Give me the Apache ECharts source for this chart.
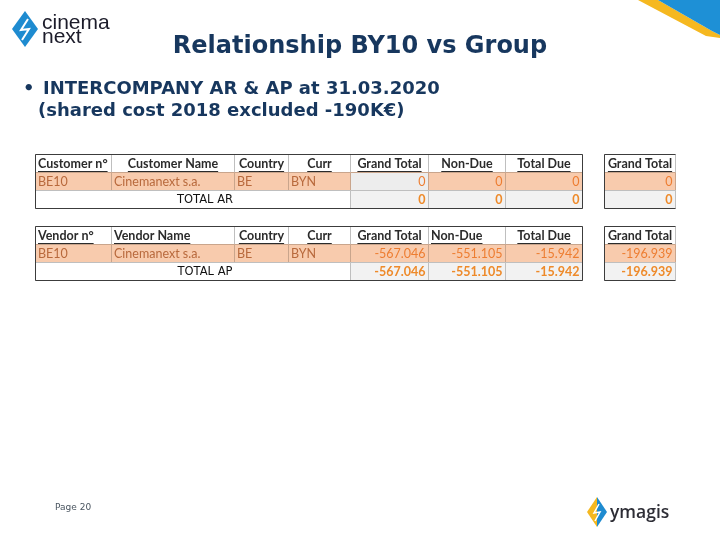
<!DOCTYPE html>
<html>
<head>
<meta charset="utf-8">
<script src="https://cdn.jsdelivr.net/npm/echarts@6/dist/echarts.min.js"></script>
<style>html,body{margin:0;padding:0;background:#fff}#c{width:720px;height:540px}</style>
</head>
<body>
<div id="c"></div>
<script>
// ---------- data ----------
const arHeaders = ['Customer n°', 'Customer Name', 'Country', 'Curr', 'Grand Total', 'Non-Due', 'Total Due'];
const apHeaders = ['Vendor n°', 'Vendor Name', 'Country', 'Curr', 'Grand Total', 'Non-Due', 'Total Due'];
const groupHeader = 'Grand Total';
const arRowLabels = ['BE10', 'Cinemanext s.a.', 'BE', 'BYN'];
const apRowLabels = ['BE10', 'Cinemanext s.a.', 'BE', 'BYN'];
const arAmounts = [0, 0, 0];
const arTotals = [0, 0, 0];
const arGroupAmount = 0;
const arGroupTotal = 0;
const apAmounts = [-567046, -551105, -15942];
const apTotals = [-567046, -551105, -15942];
const apGroupAmount = -196939;
const apGroupTotal = -196939;
const totalLabels = ['TOTAL AR', 'TOTAL AP'];

// ---------- layout ----------
const COL_EDGES = [35, 111, 234, 288, 350, 428, 505, 582];
const GROUP_EDGES = [604, 675];
const TABLE_TOPS = [154, 226];
const ROW_H = 18;
const HEAD_ALIGN = [
  ['left', 'center', 'center', 'center', 'center', 'center', 'center'],
  ['left', 'left', 'center', 'center', 'center', 'left', 'center']
];
const ORANGE = '#F8CBAD', GREY = '#EDEDED', LGREY = '#F2F2F2';
const FONT = 'Lato, "Open Sans", sans-serif';

function fmt(v) {
  if (v === 0) return '0';
  const s = Math.abs(v).toString().replace(/\B(?=(\d{3})+(?!\d))/g, '.');
  return (v < 0 ? '-' : '') + s;
}

const tables = [
  { headers: arHeaders, labels: arRowLabels, amounts: arAmounts, totals: arTotals,
    gAmount: arGroupAmount, gTotal: arGroupTotal, total: totalLabels[0], gtFill: GREY },
  { headers: apHeaders, labels: apRowLabels, amounts: apAmounts, totals: apTotals,
    gAmount: apGroupAmount, gTotal: apGroupTotal, total: totalLabels[1], gtFill: ORANGE }
];

const cells = [];
tables.forEach((t, ti) => {
  t.headers.forEach((h, c) => cells.push({ ti, r: 0, c0: c, c1: c + 1, g: false, kind: 'head', text: h, align: HEAD_ALIGN[ti][c], fill: '#fff' }));
  cells.push({ ti, r: 0, c0: 0, c1: 1, g: true, kind: 'head', text: groupHeader, align: 'center', fill: '#fff' });
  t.labels.forEach((l, c) => cells.push({ ti, r: 1, c0: c, c1: c + 1, g: false, kind: 'label', text: l, align: 'left', fill: ORANGE }));
  t.amounts.forEach((v, i) => cells.push({ ti, r: 1, c0: 4 + i, c1: 5 + i, g: false, kind: 'num', text: fmt(v), align: 'right', fill: i === 0 ? t.gtFill : ORANGE }));
  cells.push({ ti, r: 1, c0: 0, c1: 1, g: true, kind: 'num', text: fmt(t.gAmount), align: 'right', fill: ORANGE });
  cells.push({ ti, r: 2, c0: 0, c1: 4, g: false, kind: 'total', text: t.total, align: 'center', fill: '#fff' });
  t.totals.forEach((v, i) => cells.push({ ti, r: 2, c0: 4 + i, c1: 5 + i, g: false, kind: 'numBold', text: fmt(v), align: 'right', fill: LGREY }));
  cells.push({ ti, r: 2, c0: 0, c1: 1, g: true, kind: 'numBold', text: fmt(t.gTotal), align: 'right', fill: LGREY });
  cells.push({ ti, r: 0, r1: 3, c0: 0, c1: 7, g: false, kind: 'frame' });
  cells.push({ ti, r: 0, r1: 3, c0: 0, c1: 1, g: true, kind: 'frameG' });
});

const measureCtx = document.createElement('canvas').getContext('2d');
function textW(font, s) { measureCtx.font = font; return measureCtx.measureText(s).width; }

function renderItem(params, api) {
  const cell = cells[params.dataIndex];
  const edges = cell.g ? GROUP_EDGES : COL_EDGES;
  const top = TABLE_TOPS[cell.ti];
  const rEnd = cell.r1 !== undefined ? cell.r1 : cell.r + 1;
  const p0 = api.coord([edges[cell.c0], top + cell.r * ROW_H]);
  const p1 = api.coord([edges[cell.c1], top + rEnd * ROW_H]);
  const x0 = Math.round(p0[0]) + 0.5, y0 = Math.round(p0[1]) + 0.5;
  const x1 = Math.round(p1[0]) + 0.5, y1 = Math.round(p1[1]) + 0.5;
  if (cell.kind === 'frame') {
    return { type: 'rect', shape: { x: x0, y: y0, width: x1 - x0, height: y1 - y0 },
      style: { fill: null, stroke: '#3c3c3c', lineWidth: 1 } };
  }
  if (cell.kind === 'frameG') {
    return { type: 'polyline', shape: { points: [[x1, y0], [x0, y0], [x0, y1], [x1, y1]] },
      style: { fill: null, stroke: '#3c3c3c', lineWidth: 1 } };
  }
  const children = [{
    type: 'rect', shape: { x: x0, y: y0, width: x1 - x0, height: y1 - y0 },
    style: { fill: cell.fill, stroke: cell.kind === 'label' || cell.kind === 'num' ? '#C9A58C' : '#BFBFBF', lineWidth: 1 }
  }];
  let font, color;
  if (cell.kind === 'head') { font = 'bold 12.5px ' + FONT; color = '#2b2b2b'; }
  else if (cell.kind === 'label') { font = '12.5px ' + FONT; color = '#B8693C'; }
  else if (cell.kind === 'num') { font = '12.5px ' + FONT; color = '#ED7D31'; }
  else if (cell.kind === 'numBold') { font = 'bold 12.5px ' + FONT; color = '#EE8A2A'; }
  else { font = '11.5px "DejaVu Sans", sans-serif'; color = '#111'; }
  let tx;
  if (cell.align === 'left') tx = x0 + 2.5;
  else if (cell.align === 'right') tx = x1 - 3;
  else tx = (x0 + x1) / 2;
  const ty = (y0 + y1) / 2 + 0.5;
  const textStyle = { x: tx, y: ty, text: cell.text, font: font, fill: color, align: cell.align, verticalAlign: 'middle' };
  if (cell.kind === 'total') {
    textStyle.x = tx + 12;
  }
  children.push({ type: 'text', style: textStyle });
  if (cell.kind === 'head') {
    const w = textW(font, cell.text);
    const ux0 = cell.align === 'left' ? tx : (cell.align === 'right' ? tx - w : tx - w / 2);
    children.push({ type: 'line', shape: { x1: ux0, y1: Math.round(ty + 7) + 0.5, x2: ux0 + w, y2: Math.round(ty + 7) + 0.5 },
      style: { stroke: '#2b2b2b', lineWidth: 1 } });
  }
  return { type: 'group', children };
}

const chart = echarts.init(document.getElementById('c'), null, { renderer: 'canvas' });
chart.setOption({
  animation: false,
  backgroundColor: '#ffffff',
  title: {
    text: 'Relationship BY10 vs Group', left: 'center', top: 30,
    textStyle: { fontFamily: '"DejaVu Sans", sans-serif', fontWeight: 'bold', fontSize: 24, color: '#17375E' }
  },
  grid: { left: 0, right: 0, top: 0, bottom: 0 },
  xAxis: { type: 'value', min: 0, max: 720, show: false },
  yAxis: { type: 'value', min: 0, max: 540, inverse: true, show: false },
  graphic: [
    // top-right corner decoration
    { type: 'polygon', shape: { points: [[638, 0], [658, 0], [712, 31], [720, 35], [720, 38], [706, 36]] }, style: { fill: '#F5B820' } },
    { type: 'polygon', shape: { points: [[658, 0], [720, 0], [720, 35], [712, 31]] }, style: { fill: '#1E90D6' } },
    // cinemanext logo
    { type: 'polygon', shape: { points: [[25, 11], [38, 29], [25, 47], [12, 29]] }, style: { fill: '#1E8BD0' } },
    { type: 'polyline', shape: { points: [[28, 19], [21, 30], [29, 29], [22, 40]] }, style: { stroke: '#fff', lineWidth: 2, fill: null } },
    { type: 'text', style: { x: 42, y: 23, text: 'cinema', font: '21px "Liberation Sans", sans-serif', fill: '#1c1c2a', verticalAlign: 'middle' } },
    { type: 'text', style: { x: 42, y: 37, text: 'next', font: '21px "Liberation Sans", sans-serif', fill: '#1c1c2a', verticalAlign: 'middle' } },
    // bullet text
    { type: 'text', style: { x: 23, y: 89, text: '•', font: 'bold 18px "DejaVu Sans", sans-serif', fill: '#17375E', verticalAlign: 'middle' } },
    { type: 'text', style: { x: 43, y: 89, text: 'INTERCOMPANY AR & AP at 31.03.2020', font: 'bold 18px "DejaVu Sans", sans-serif', fill: '#17375E', verticalAlign: 'middle' } },
    { type: 'text', style: { x: 38, y: 111, text: '(shared cost 2018 excluded -190K€)', font: 'bold 18px "DejaVu Sans", sans-serif', fill: '#17375E', verticalAlign: 'middle' } },
    // footer
    { type: 'text', style: { x: 55, y: 508, text: 'Page 20', font: '9px "DejaVu Sans", sans-serif', fill: '#4a5560', verticalAlign: 'middle' } },
    { type: 'polygon', shape: { points: [[597, 497], [597, 527], [587, 512]] }, style: { fill: '#F5B820' } },
    { type: 'polygon', shape: { points: [[597, 497], [607, 512], [597, 527]] }, style: { fill: '#1E8BD0' } },
    { type: 'polyline', shape: { points: [[599, 504], [594, 513], [600, 512], [595, 521]] }, style: { stroke: '#fff', lineWidth: 1.5, fill: null } },
    { type: 'text', style: { x: 610, y: 513, text: 'ymagis', font: '600 17.5px "Open Sans", sans-serif', fill: '#2d2d35', verticalAlign: 'middle' } }
  ],
  series: [{
    type: 'custom',
    coordinateSystem: 'cartesian2d',
    renderItem: renderItem,
    data: cells.map((c, i) => [i, c.r]),
    encode: { x: 0, y: 1 },
    silent: true,
    clip: false
  }]
});
</script>
</body>
</html>
